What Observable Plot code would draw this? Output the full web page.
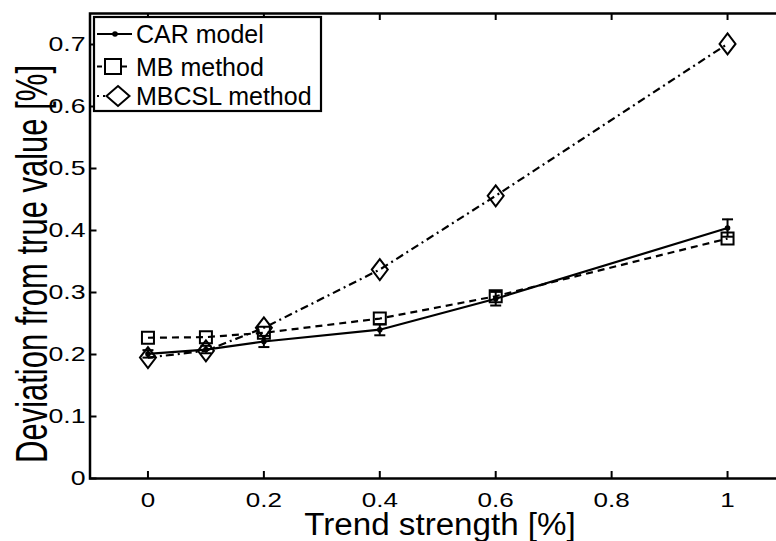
<!DOCTYPE html>
<html>
<head>
<meta charset="utf-8">
<script src="https://cdn.jsdelivr.net/npm/d3@7"></script>
<script src="https://cdn.jsdelivr.net/npm/@observablehq/plot@0.6"></script>
<style>
  html, body { margin: 0; padding: 0; background: white; overflow: hidden; }
  #wrap { position: relative; width: 776px; height: 541px; overflow: hidden; }
  #legend { position: absolute; left: 0; top: 0; }
</style>
</head>
<body>
<div id="wrap"></div>
<script>
// ---- data ----
const trend = [0, 0.1, 0.2, 0.4, 0.6, 1];
const carModel = [0.201, 0.208, 0.221, 0.240, 0.290, 0.404];
const carError = [0.006, 0.006, 0.009, 0.009, 0.011, 0.014];
const mbMethod = [0.227, 0.228, 0.235, 0.258, 0.294, 0.387];
const mbcslMethod = [0.195, 0.206, 0.243, 0.337, 0.456, 0.701];
const xTicks = [0, 0.2, 0.4, 0.6, 0.8, 1];
const yTicks = [0, 0.1, 0.2, 0.3, 0.4, 0.5, 0.6, 0.7];
const seriesNames = ["CAR model", "MB method", "MBCSL method"];
const xTitle = "Trend strength [%]";
const yTitle = "Deviation from true value [%]";

// ---- tables ----
const car = trend.map((x, i) => ({x, y: carModel[i], lo: carModel[i] - carError[i], hi: carModel[i] + carError[i]}));
const mb = trend.map((x, i) => ({x, y: mbMethod[i]}));
const mbcsl = trend.map((x, i) => ({x, y: mbcslMethod[i]}));

// ---- custom symbols ----
const squareSym = {draw(c) { c.moveTo(-6, -6); c.lineTo(6, -6); c.lineTo(6, 6); c.lineTo(-6, 6); c.closePath(); }};
const diamondSym = {draw(c) { c.moveTo(0, -10.5); c.lineTo(8, 0); c.lineTo(0, 10.5); c.lineTo(-8, 0); c.closePath(); }};
const capSym = {draw(c) { c.moveTo(-5.5, 0); c.lineTo(5.5, 0); }};

const W = 785, H = 541, mL = 89.5, mT = 13, mB = 63;
const frameH = H - mT - mB;
const font = "Liberation Sans, Arial, Helvetica, sans-serif";

const chart = Plot.plot({
  width: W, height: H,
  marginLeft: mL, marginRight: 0, marginTop: mT, marginBottom: mB,
  style: `max-width:none; overflow:visible; font-family:${font}; background:white; color:black;`,
  x: {domain: [-0.1, 1.1]},
  y: {domain: [0, 0.75]},
  marks: [
    Plot.axisX({ticks: xTicks, tickSize: 0, tickPadding: 14, fontSize: 20.5, label: null, tickFormat: d => String(d)}),
    Plot.axisY({ticks: yTicks, tickSize: 0, tickPadding: 4.5, fontSize: 21, label: null, tickFormat: d => String(d)}),
    Plot.tickX(xTicks, {x: d => d, insetTop: frameH - 7, stroke: "black", strokeWidth: 2}),
    Plot.tickX(xTicks, {x: d => d, insetBottom: frameH - 7, stroke: "black", strokeWidth: 2}),
    Plot.tickY(yTicks, {y: d => d, insetRight: (W - mL) - 7, stroke: "black", strokeWidth: 2}),
    // CAR model
    Plot.ruleX(car, {x: "x", y1: "lo", y2: "hi", stroke: "black", strokeWidth: 2}),
    Plot.dot(car, {x: "x", y: "lo", symbol: capSym, stroke: "black", strokeWidth: 2, fill: "none"}),
    Plot.dot(car, {x: "x", y: "hi", symbol: capSym, stroke: "black", strokeWidth: 2, fill: "none"}),
    Plot.line(car, {x: "x", y: "y", stroke: "black", strokeWidth: 2.2}),
    Plot.dot(car, {x: "x", y: "y", r: 2.8, fill: "black", stroke: "none"}),
    // MB method
    Plot.line(mb, {x: "x", y: "y", stroke: "black", strokeWidth: 2.2, strokeDasharray: "7,5", strokeLinecap: "butt"}),
    Plot.dot(mb, {x: "x", y: "y", symbol: squareSym, stroke: "black", strokeWidth: 2, fill: "none"}),
    // MBCSL method
    Plot.line(mbcsl, {x: "x", y: "y", stroke: "black", strokeWidth: 2.2, strokeDasharray: "8,4,2,4", strokeLinecap: "butt"}),
    Plot.dot(mbcsl, {x: "x", y: "y", symbol: diamondSym, stroke: "black", strokeWidth: 2, fill: "none"}),
    Plot.frame({stroke: "black", strokeWidth: 2.5})
  ]
});
const wrap = document.getElementById("wrap");
wrap.appendChild(chart);

// widen the tick labels horizontally, as in the reference rendering
chart.querySelectorAll("text").forEach(el => {
  const t = el.getAttribute("transform");
  if (t && t.includes("translate")) {
    el.setAttribute("transform", t + " scale(1.27,1)");
  } else {
    const x = +(el.getAttribute("x") || 0), y = +(el.getAttribute("y") || 0);
    el.setAttribute("transform", `translate(${x},${y}) scale(1.27,1) translate(${-x},${-y})` + (t ? " " + t : ""));
  }
});

// ---- overlay: titles and legend ----
const ov = d3.select(wrap).append("svg").attr("id", "legend").attr("width", 776).attr("height", 541)
  .style("font-family", font);
ov.append("text").attr("transform", "translate(440,535) scale(1.07,1)")
  .attr("text-anchor", "middle").attr("font-size", 31).attr("fill", "black").text(xTitle);
ov.append("text").attr("transform", "translate(46.5,264) scale(1.45,1) rotate(-90)")
  .attr("text-anchor", "middle").attr("font-size", 31).attr("fill", "black").text(yTitle);

ov.append("rect").attr("x", 94).attr("y", 17).attr("width", 227).attr("height", 94)
  .attr("fill", "white").attr("stroke", "black").attr("stroke-width", 2.2);
const rowsY = [34, 66.5, 96];
const dashes = [null, "5,20,5", "2,4"];
seriesNames.forEach((name, i) => {
  const y = rowsY[i];
  const l = ov.append("line").attr("x1", 97).attr("x2", 132).attr("y1", y).attr("y2", y)
    .attr("stroke", "black").attr("stroke-width", 2);
  if (dashes[i]) l.attr("stroke-dasharray", dashes[i]);
  ov.append("text").attr("x", 136).attr("y", y).attr("dy", "0.36em").attr("font-size", 25).attr("fill", "black").text(name);
});
ov.append("circle").attr("cx", 115).attr("cy", rowsY[0]).attr("r", 2.8).attr("fill", "black");
ov.append("rect").attr("x", 105).attr("y", rowsY[1] - 7.5).attr("width", 16).attr("height", 15)
  .attr("fill", "white").attr("stroke", "black").attr("stroke-width", 2);
ov.append("path").attr("d", `M118,${rowsY[2]-10}L129.5,${rowsY[2]}L118,${rowsY[2]+10}L106.5,${rowsY[2]}Z`)
  .attr("fill", "white").attr("stroke", "black").attr("stroke-width", 2);
</script>
</body>
</html>
